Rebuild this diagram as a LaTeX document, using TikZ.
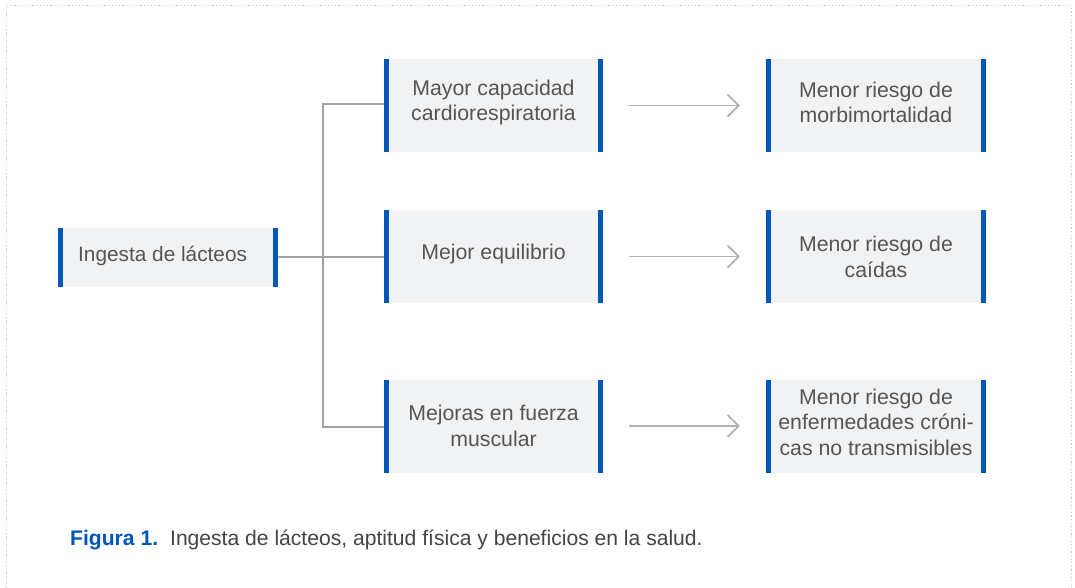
\documentclass[tikz,border=0pt]{standalone}
\usepackage{fontspec}
\setmainfont{Liberation Sans}
\usetikzlibrary{arrows.meta}
\definecolor{blu}{HTML}{0057B8}
\definecolor{boxfill}{HTML}{F1F2F4}
\definecolor{linegray}{HTML}{A3A3A6}
\definecolor{txt}{HTML}{555555}
\definecolor{frame}{HTML}{C8C8C8}
\tikzset{
  card/.style={fill=boxfill, minimum width=#1, inner sep=0pt, text=txt, align=center,
    path picture={
      \fill[blu] (path picture bounding box.south west) rectangle ([xshift=5pt]path picture bounding box.north west);
      \fill[blu] (path picture bounding box.south east) rectangle ([xshift=-5pt]path picture bounding box.north east);
    }},
  conn/.style={draw=linegray, line width=2pt},
  arr/.style={draw=linegray!85, line width=1.8pt, shorten <=26pt, shorten >=26pt,
    -{Straight Barb[length=11pt,width=22pt,line width=1.8pt]}},
  label/.style={text=txt, font=\fontsize{21.3}{25.5}\selectfont, align=center, inner sep=0pt}
}
\begin{document}
\begin{tikzpicture}[x=1pt,y=-1pt]
\useasboundingbox (0,0) rectangle (1075,588);
\draw[frame, line width=1pt, dash pattern=on 1.2pt off 2.4pt] (6,588) -- (6,6) -- (1071,6) -- (1071,588);

% boxes
\node[card=220pt, minimum height=59pt] (L) at (168,257.5) {};
\node[label, anchor=west, font=\fontsize{20.8}{25}\selectfont] (Lt) at (78,255.5) {Ingesta de lácteos};

\node[card=219pt, minimum height=93pt] (M1) at (493.5,105.5) {};
\node[card=219pt, minimum height=93pt] (M2) at (493.5,256.5) {};
\node[card=219pt, minimum height=93pt] (M3) at (493.5,426) {};
\node[card=220pt, minimum height=93pt] (R1) at (876,105.5) {};
\node[card=220pt, minimum height=93pt] (R2) at (876,256.5) {};
\node[card=220pt, minimum height=93pt] (R3) at (876,426) {};

\node[label] (M1t) at (493.5,102.5) {Mayor capacidad\\cardiorespiratoria};
\node[label] (M2t) at (493.5,253.5) {Mejor equilibrio};
\node[label] (M3t) at (493.5,426) {Mejoras en fuerza\\muscular};
\node[label] (R1t) at (876,102.5) {Menor riesgo de\\morbimortalidad};
\node[label] (R2t) at (876,257) {Menor riesgo de\\caídas};
\node[label] (R3t) at (876,422) {Menor riesgo de\\enfermedades cróni-\\cas no transmisibles};

% connectors
\coordinate (J) at (322.5,257);
\draw[conn] (L.east |- J) -- (M2.west |- J);
\draw[conn] (M1.west |- 0,104) -- (J |- 0,104) -- (J |- 0,427) -- (M3.west |- 0,427);

\draw[arr] (M1.east) -- (R1.west);
\draw[arr] (M2.east) -- (R2.west);
\draw[arr] (M3.east) -- (R3.west);

% caption
\node[anchor=base west, inner sep=0pt, font=\fontsize{21.1}{24}\selectfont] (cap) at (70,545)
  {\textcolor{blu}{\bfseries Figura 1.}\hspace{12pt}\textcolor{txt!80!black}{Ingesta de lácteos, aptitud física y beneficios en la salud.}};
\end{tikzpicture}
\end{document}
